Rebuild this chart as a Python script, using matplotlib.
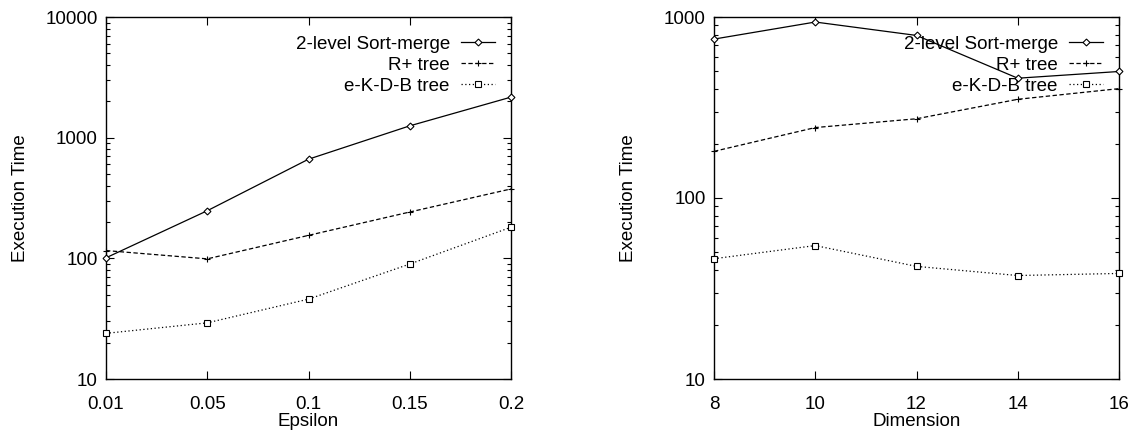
import numpy as np
import matplotlib
matplotlib.use("Agg")
import matplotlib.pyplot as plt
from matplotlib.ticker import LogLocator, NullFormatter

plt.rcParams['font.family'] = ['Liberation Sans', 'DejaVu Sans']
plt.rcParams['font.size'] = 13.5

# execution time vs. epsilon
eps_labels = ['0.01', '0.05', '0.1', '0.15', '0.2']
eps_sortmerge = [101, 248, 663, 1253, 2168]
eps_rplus = [116, 99, 155, 242, 376]
eps_ekdb = [23.9, 29.2, 45.9, 89.7, 181]

# execution time vs. dimension
dims = [8, 10, 12, 14, 16]
dim_sortmerge = [755, 938, 791, 459, 500]
dim_rplus = [181, 245, 274, 351, 402]
dim_ekdb = [46.2, 54.6, 41.9, 37.3, 38.3]

names = ['2-level Sort-merge', 'R+ tree', 'e-K-D-B tree']
styles = [dict(ls='-', marker='D', ms=3.5),
          dict(ls=(0, (3.5, 2)), marker='+', ms=5),
          dict(ls=(0, (1, 2)), marker='s', ms=4.5)]


def style_axes(ax):
    ax.set_yscale('log')
    ax.tick_params(which='both', direction='in', top=True, right=True, width=0.8)
    ax.tick_params(which='major', length=6)
    ax.tick_params(which='minor', length=3)
    ax.tick_params(axis='x', pad=12)
    ax.tick_params(axis='y', pad=6)
    ax.yaxis.set_minor_locator(LogLocator(base=10, subs=np.arange(2, 10)))
    ax.yaxis.set_minor_formatter(NullFormatter())
    ax.set_ylabel('Execution Time')
    ax.yaxis.set_label_coords(-0.19, 0.5)
    for s in ax.spines.values():
        s.set_linewidth(1.0)


def draw(ax, x, series):
    for y, name, st in zip(series, names, styles):
        ax.plot(x, y, color='black', lw=0.9, mfc='white', mec='black',
                mew=0.8, label=name, zorder=3, clip_on=False, **st)
    leg = ax.legend(loc='upper right', bbox_to_anchor=(0.96, 0.948), borderaxespad=0,
                    borderpad=0, frameon=False, markerfirst=False, labelspacing=0.2,
                    handlelength=1.8, handletextpad=0.6)
    # lines run over the key text, as gnuplot draws it
    leg.set_zorder(1)


fig = plt.figure(figsize=(11.31, 4.32), dpi=100)
ax1 = fig.add_axes([106 / 1131, 53 / 432, 405 / 1131, 362 / 432])
ax2 = fig.add_axes([714 / 1131, 53 / 432, 405 / 1131, 362 / 432])

xi = np.arange(len(eps_labels))
draw(ax1, xi, [eps_sortmerge, eps_rplus, eps_ekdb])
style_axes(ax1)
ax1.set_xlim(0, 4)
ax1.set_xticks(xi)
ax1.set_xticklabels(eps_labels)
ax1.set_ylim(10, 10000)
ax1.set_yticks([10, 100, 1000, 10000])
ax1.set_yticklabels(['10', '100', '1000', '10000'])
ax1.set_xlabel('Epsilon', labelpad=0)

draw(ax2, dims, [dim_sortmerge, dim_rplus, dim_ekdb])
style_axes(ax2)
ax2.set_xlim(8, 16)
ax2.set_xticks(dims)
ax2.set_xticklabels([str(d) for d in dims])
ax2.set_ylim(10, 1000)
ax2.set_yticks([10, 100, 1000])
ax2.set_yticklabels(['10', '100', '1000'])
ax2.set_xlabel('Dimension', labelpad=0)

fig.savefig('out.png', dpi=100)
